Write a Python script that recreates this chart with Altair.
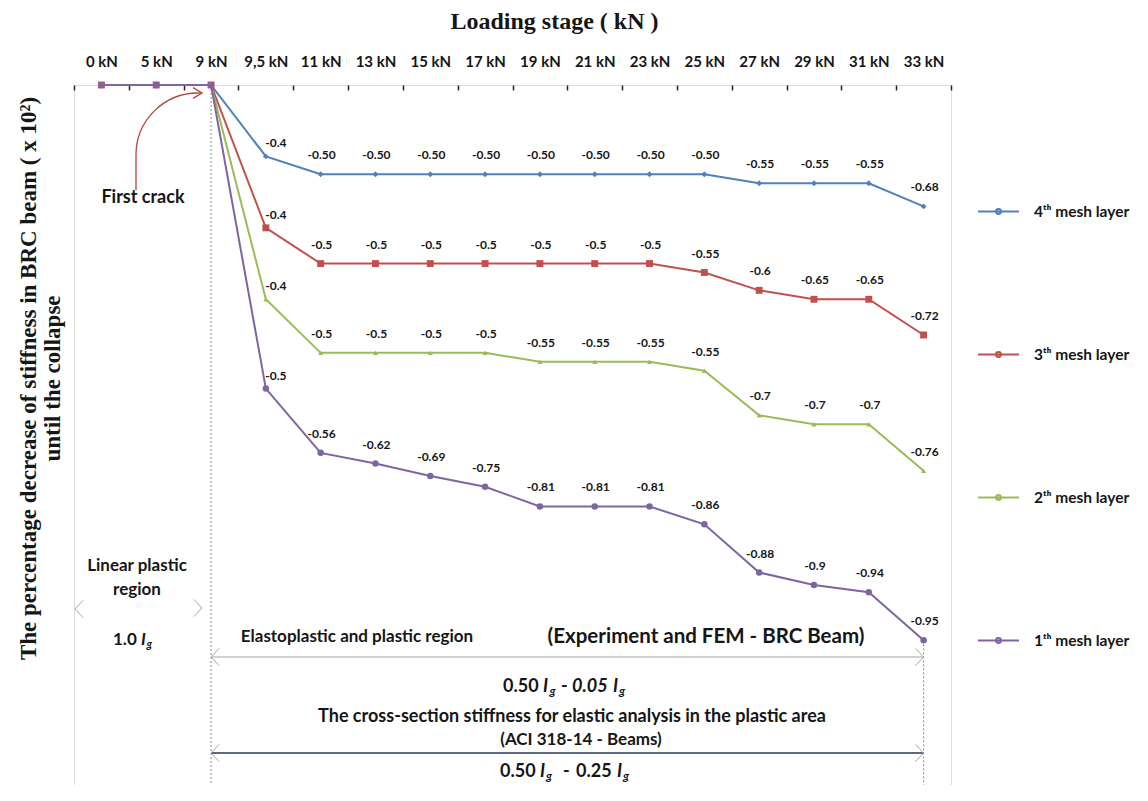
import math
import pandas as pd
import altair as alt

# ---------------- data ----------------
stages = ["0 kN", "5 kN", "9 kN", "9,5 kN", "11 kN", "13 kN", "15 kN", "17 kN",
          "19 kN", "21 kN", "23 kN", "25 kN", "27 kN", "29 kN", "31 kN", "33 kN"]
series_names = ["4ᵗʰ mesh layer", "3ᵗʰ mesh layer", "2ᵗʰ mesh layer", "1ᵗʰ mesh layer"]
series_colors = ["#4F81BD", "#C0504D", "#9BBB59", "#8064A2"]
series_shapes = ["diamond", "square", "triangle-up", "circle"]
series_sizes = [34, 48, 26, 42]

layer4 = [0, 0, 0, -0.4, -0.5, -0.5, -0.5, -0.5, -0.5, -0.5, -0.5, -0.5, -0.55, -0.55, -0.55, -0.68]
layer3 = [0, 0, 0, -0.4, -0.5, -0.5, -0.5, -0.5, -0.5, -0.5, -0.5, -0.55, -0.6, -0.65, -0.65, -0.72]
layer2 = [0, 0, 0, -0.4, -0.5, -0.5, -0.5, -0.5, -0.55, -0.55, -0.55, -0.55, -0.7, -0.7, -0.7, -0.76]
layer1 = [0, 0, 0, -0.5, -0.56, -0.62, -0.69, -0.75, -0.81, -0.81, -0.81, -0.86, -0.88, -0.9, -0.94, -0.95]

labels4 = ["", "", "", "-0.4", "-0.50", "-0.50", "-0.50", "-0.50", "-0.50", "-0.50", "-0.50", "-0.50",
           "-0.55", "-0.55", "-0.55", "-0.68"]
labels3 = ["", "", "", "-0.4", "-0.5", "-0.5", "-0.5", "-0.5", "-0.5", "-0.5", "-0.5", "-0.55",
           "-0.6", "-0.65", "-0.65", "-0.72"]
labels2 = ["", "", "", "-0.4", "-0.5", "-0.5", "-0.5", "-0.5", "-0.55", "-0.55", "-0.55", "-0.55",
           "-0.7", "-0.7", "-0.7", "-0.76"]
labels1 = ["", "", "", "-0.5", "-0.56", "-0.62", "-0.69", "-0.75", "-0.81", "-0.81", "-0.81", "-0.86",
           "-0.88", "-0.9", "-0.94", "-0.95"]

values = [layer4, layer3, layer2, layer1]
labels = [labels4, labels3, labels2, labels1]

rows = []
for k, name in enumerate(series_names):
    for i, st in enumerate(stages):
        rows.append({"stage": st, "idx": i, "series": name, "order": k,
                     "value": values[k][i], "label": labels[k][i]})
df = pd.DataFrame(rows)
one = pd.DataFrame({"a": [0]})

# ---------------- layout ----------------
W, H = 877, 700
step = W / len(stages)
x9 = step * 2.5
x33 = step * 15.5

FONT = "Lato"
SERIF = "Liberation Serif"
INK = "#161616"

x_axis = alt.Axis(orient="top", offset=-5, tickSize=5, tickBand="extent", domain=False, grid=False,
                  labelFont=FONT, labelFontWeight="bold", labelFontSize=15, labelColor=INK,
                  labelPadding=16, labelAngle=0, labelOverlap=False,
                  tickColor="#222222", tickWidth=1.5,
                  title="Loading stage ( kN )", titleFont=SERIF, titleFontSize=24,
                  titleFontWeight="bold", titleColor=INK, titleX=480, titleY=-62,
                  titleAlign="center", titleBaseline="alphabetic")
y_axis = alt.Axis(orient="left", domain=False, ticks=False, labels=False, grid=False,
                  title=["The percentage decrease of stiffness in BRC beam ( x 10²)",
                         "until the collapse"],
                  titleFont=SERIF, titleFontSize=23, titleFontWeight="bold", titleColor=INK,
                  titleAngle=270, titleX=-46, titleY=293, titleAlign="center",
                  titleBaseline="middle", titleLineHeight=24)

x_enc = alt.X("stage:N", sort=stages, bandPosition=0.5,
              scale=alt.Scale(type="band", domain=stages, paddingInner=0, paddingOuter=0),
              axis=x_axis)
y_enc = alt.Y("cum:Q", scale=alt.Scale(domain=[-3.92, 0], nice=False, zero=False), axis=y_axis)

legend_path = "M-1,0H1M-0.12,0A0.12,0.12 0 1 1 0.12,0A0.12,0.12 0 1 1 -0.12,0Z"
color_enc = alt.Color("series:N", scale=alt.Scale(domain=series_names, range=series_colors),
                      sort=series_names,
                      legend=alt.Legend(title=None, orient="none", legendX=903, legendY=105,
                                        symbolType=legend_path, symbolSize=1681,
                                        symbolStrokeWidth=2.2, rowPadding=113, labelOffset=14,
                                        labelFont=FONT, labelFontSize=15.5, labelFontWeight="bold",
                                        labelColor=INK, padding=0, labelLimit=200))

base = alt.Chart(df).transform_window(
    cum="sum(value)", groupby=["stage"],
    sort=[alt.SortField("order", order="ascending")], frame=[None, 0])

lines = base.mark_line().encode(
    x=x_enc, y=y_enc, color=color_enc, order=alt.Order("idx:Q"),
    strokeWidth=alt.StrokeWidth("series:N", scale=alt.Scale(domain=series_names, range=[2, 2, 2, 2.5]),
                                legend=None))

point_layers = []
for k in range(len(series_names)):
    point_layers.append(
        base.transform_filter(f"datum.order == {k}").mark_point(
            filled=True, opacity=1, shape=series_shapes[k], size=series_sizes[k],
            color=series_colors[k]).encode(x=x_enc, y=y_enc))

labels_main = base.transform_filter("datum.label != '' && datum.stage != '9,5 kN'").mark_text(
    font=FONT, fontSize=12, fontWeight="bold", color=INK, dx=1, dy=-19).encode(
    x=x_enc, y=y_enc, text="label:N")
labels_first = base.transform_filter("datum.stage == '9,5 kN'").mark_text(
    font=FONT, fontSize=12, fontWeight="bold", color=INK, dx=10, dy=-13).encode(
    x=x_enc, y=y_enc, text="label:N")

# dotted guide lines
rule9 = alt.Chart(one).mark_rule(color="#8a8a8a", strokeDash=[2, 2], strokeWidth=1).encode(
    x=alt.value(x9))
rule33 = base.transform_filter("datum.stage == '33 kN' && datum.order == 3").mark_rule(
    color="#8a8a8a", strokeDash=[2, 2], strokeWidth=1).encode(x=x_enc, y=y_enc, y2=alt.value(H))

# first crack arrow
crack_arc = alt.Chart(one).mark_arc(theta=3 * math.pi / 2, theta2=2 * math.pi, radius=62, radius2=62,
                                    fillOpacity=0, stroke="#B4443C", strokeWidth=1.3).encode(
    x=alt.value(124), y=alt.value(70))
crack_stem = alt.Chart(one).mark_rule(color="#B4443C", strokeWidth=1.3).encode(
    x=alt.value(62), y=alt.value(70), y2=alt.value(105))
crack_tail = alt.Chart(one).mark_rule(color="#B4443C", strokeWidth=1.3).encode(
    x=alt.value(124), x2=alt.value(128), y=alt.value(8))
crack_head = alt.Chart(one).mark_point(shape="M-1,-0.6L0,0L-1,0.6", size=324, filled=False,
                                       color="#B4443C", strokeWidth=1.3, opacity=1).encode(
    x=alt.value(128), y=alt.value(8))

CHEV_L = "M0.95,-1L0,0L0.95,1"
CHEV_R = "M-0.95,-1L0,0L-0.95,1"


def chevron(path, x, y, color="#a8a8a8"):
    return alt.Chart(one).mark_point(shape=path, size=300, filled=False, color=color,
                                     strokeWidth=1, opacity=1).encode(x=alt.value(x), y=alt.value(y))


def txt(s, x, y, size=17, weight="bold", style="normal", align="center", color=INK):
    return alt.Chart(one).mark_text(text=s, font=FONT, fontSize=size, fontWeight=weight,
                                    fontStyle=style, align=align, baseline="middle",
                                    color=color).encode(x=alt.value(x), y=alt.value(y))


def formula(parts, y):
    # parts: (text, x, italic, subscript)
    out = []
    for s, x, it, sub in parts:
        out.append(txt(s, x, y + (4 if sub else 0), size=12 if sub else 18,
                       style="italic" if it else "normal", align="left"))
    return out


arrow1 = alt.Chart(one).mark_rule(color="#a6a6a6", strokeWidth=1.2).encode(
    x=alt.value(x9), x2=alt.value(x33), y=alt.value(572))
arrow2 = alt.Chart(one).mark_rule(color="#26395a", strokeWidth=1.3).encode(
    x=alt.value(x9), x2=alt.value(x33), y=alt.value(668))

annotations = [
    crack_arc, crack_stem, crack_tail, crack_head,
    txt("First crack", 69, 113, size=18),
    txt("Linear plastic", 63, 481), txt("region", 63, 505),
    chevron(CHEV_L, 1, 524), chevron(CHEV_R, 128, 523),
    txt("1.0", 39, 555, align="left"), txt("I", 67, 555, style="italic", align="left"),
    txt("g", 72.5, 560, size=11, style="italic", align="left"),
    txt("Elastoplastic and plastic region", 283, 552),
    txt("(Experiment and FEM - BRC Beam)", 632, 552, size=20.5),
    arrow1, chevron(CHEV_L, x9, 572), chevron(CHEV_R, x33, 572),
    *formula([("0.50", 429, False, False), ("I", 469, True, False), ("g", 475.5, True, True),
              ("-", 487, False, False), ("0.05", 498, True, False), ("I", 539, True, False),
              ("g", 545, True, True)], 602),
    txt("The cross-section stiffness for elastic analysis in the plastic area", 498, 632, size=18),
    txt("(ACI 318-14 - Beams)", 507, 655, size=17),
    arrow2, chevron(CHEV_L, x9, 668), chevron(CHEV_R, x33, 668),
    *formula([("0.50", 426, False, False), ("I", 466, True, False), ("g", 472, True, True),
              ("-", 489, False, False), ("0.25", 502, False, False), ("I", 543, True, False),
              ("g", 549, True, True)], 687),
]

chart = alt.layer(
    rule9, rule33, lines, *point_layers, labels_main, labels_first, *annotations
).properties(
    width=W, height=H,
    padding={"left": 66, "top": 77, "right": 187, "bottom": 0},
    autosize=alt.AutoSizeParams(type="none"),
).configure_view(stroke="#8c8c8c", strokeWidth=1).configure(background="white")

chart.save("out.html", embed_options={"renderer": "svg", "actions": False})
